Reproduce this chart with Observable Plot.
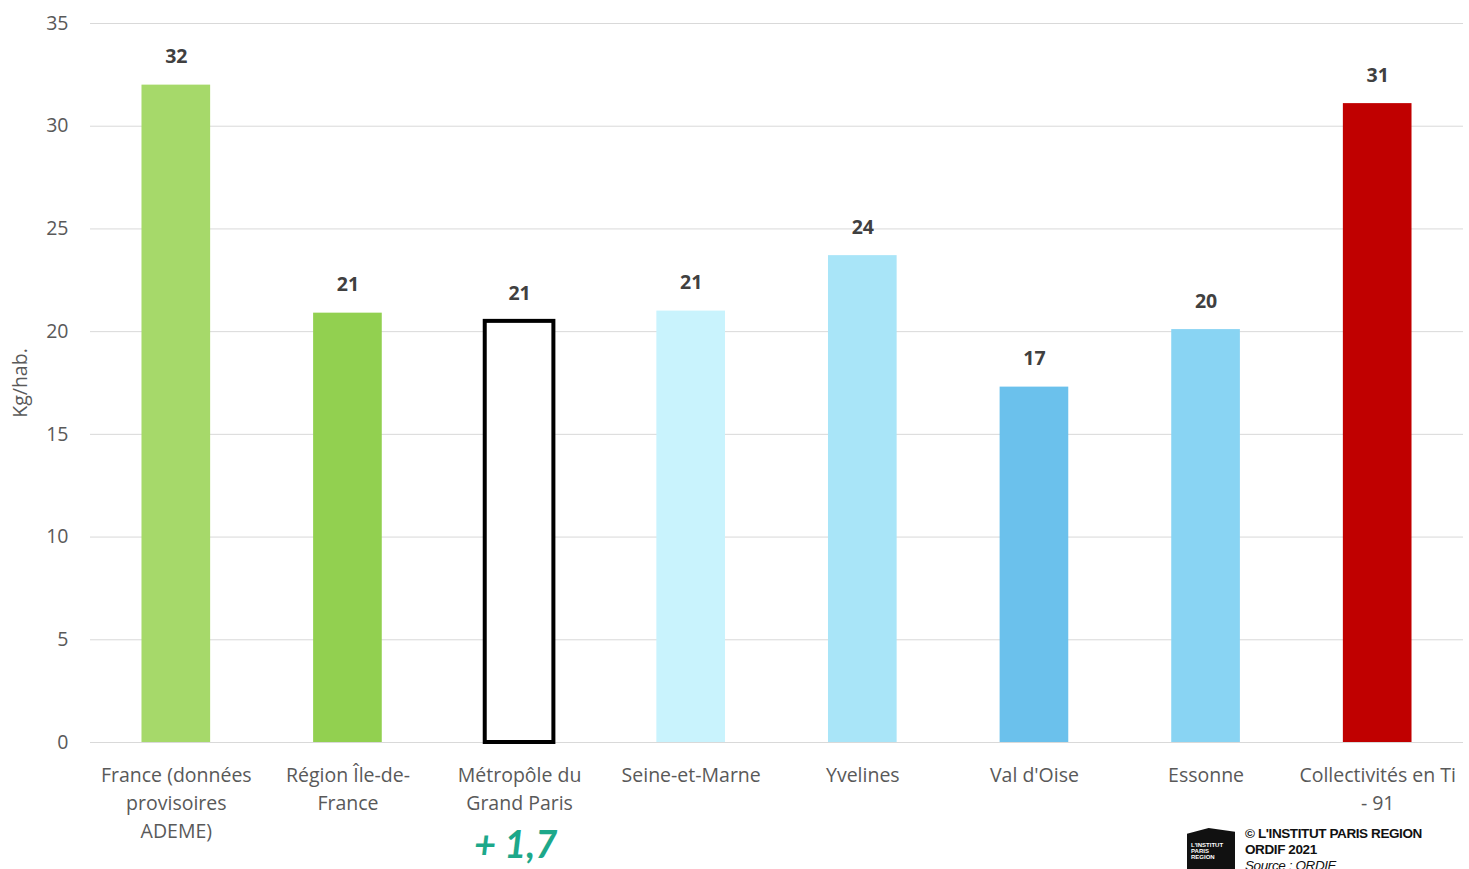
<!DOCTYPE html>
<html>
<head>
<meta charset="utf-8">
<script src="https://cdn.jsdelivr.net/npm/d3@7"></script>
<script src="https://cdn.jsdelivr.net/npm/@observablehq/plot@0.6"></script>
<style>
  html, body { margin: 0; padding: 0; background: #fff; }
  #wrap { position: relative; width: 1469px; height: 869px; overflow: hidden; font-family: "Open Sans", sans-serif; }
  #logo { position: absolute; left: 1187px; top: 828px; width: 48px; height: 48px; background: #111;
          clip-path: polygon(0 12%, 45% 0, 100% 8%, 100% 100%, 0 100%); color: #fff;
          font: bold 6px "Liberation Sans", Arial, sans-serif; line-height: 6px; padding: 14px 0 0 4px; box-sizing: border-box; }
  #credit { position: absolute; left: 1245px; top: 826px; font-family: "Liberation Sans", Arial, sans-serif;
            font-size: 13.5px; font-weight: bold; line-height: 16px; color: #111; letter-spacing: -0.4px; }
  #credit .src { font-weight: normal; font-style: italic; }
</style>
</head>
<body>
<div id="wrap">
  <div id="chart"></div>
  <div id="logo">L'INSTITUT<br>PARIS<br>REGION</div>
  <div id="credit">© L'INSTITUT PARIS REGION<br>ORDIF 2021<br><span class="src">Source : ORDIF</span></div>
</div>
<script>
const categories = [
  "France (données\nprovisoires\nADEME)",
  "Région Île-de-\nFrance",
  "Métropôle du\nGrand Paris",
  "Seine-et-Marne",
  "Yvelines",
  "Val d'Oise",
  "Essonne",
  "Collectivités en Ti\n- 91"
];
const values = [32.0, 20.9, 20.5, 21.0, 23.7, 17.3, 20.1, 31.1];
const barColors = ["#A6D96A", "#92D050", "#FFFFFF", "#C9F3FD", "#A9E5F8", "#6BC1EC", "#89D4F3", "#C00000"];
const yTicks = [0, 5, 10, 15, 20, 25, 30, 35];
const outlined = "Métropôle du\nGrand Paris";
const annotation = [{cat: outlined, text: "+ 1,7"}];

const data = categories.map((c, i) => ({cat: c, value: values[i]}));

const chart = Plot.plot({
  width: 1469,
  height: 869,
  marginLeft: 90,
  marginRight: 6,
  marginTop: 23,
  marginBottom: 127,
  style: {fontFamily: "'Open Sans', sans-serif", background: "#fff"},
  x: {domain: categories, paddingInner: 0.6, paddingOuter: 0.3, round: false, label: null},
  y: {domain: [0, 35], label: null},
  color: {domain: categories, range: barColors},
  marks: [
    Plot.ruleY(yTicks, {stroke: "#d9d9d9", strokeWidth: 1}),
    Plot.axisY({ticks: yTicks, tickSize: 0, tickPadding: 22, fontSize: 19.5, fill: "#595959",
      label: "Kg/hab.", labelAnchor: "center", labelArrow: "none", labelOffset: 77}),
    Plot.axisX({tickSize: 0, tickPadding: 19, fontSize: 19.5, fill: "#595959", lineHeight: 1.45, label: null}),
    Plot.barY(data.filter(d => d.cat !== outlined), {x: "cat", y: "value", fill: "cat"}),
    Plot.barY(data.filter(d => d.cat === outlined), {x: "cat", y: "value", fill: "#fff", stroke: "#000", strokeWidth: 4}),
    Plot.text(data, {x: "cat", y: "value", text: d => String(Math.round(d.value)), dy: -28,
      fontSize: 19.5, fontWeight: "bold", fill: "#404040"}),
    Plot.text(annotation, {x: "cat", text: "text", frameAnchor: "bottom", dy: 115, dx: -4,
      fontSize: 38, fontWeight: "bold", fontStyle: "italic", fill: "#1DA88A", fontFamily: "Lato, 'Open Sans', sans-serif"})
  ]
});
document.getElementById("chart").appendChild(chart);
</script>
</body>
</html>
